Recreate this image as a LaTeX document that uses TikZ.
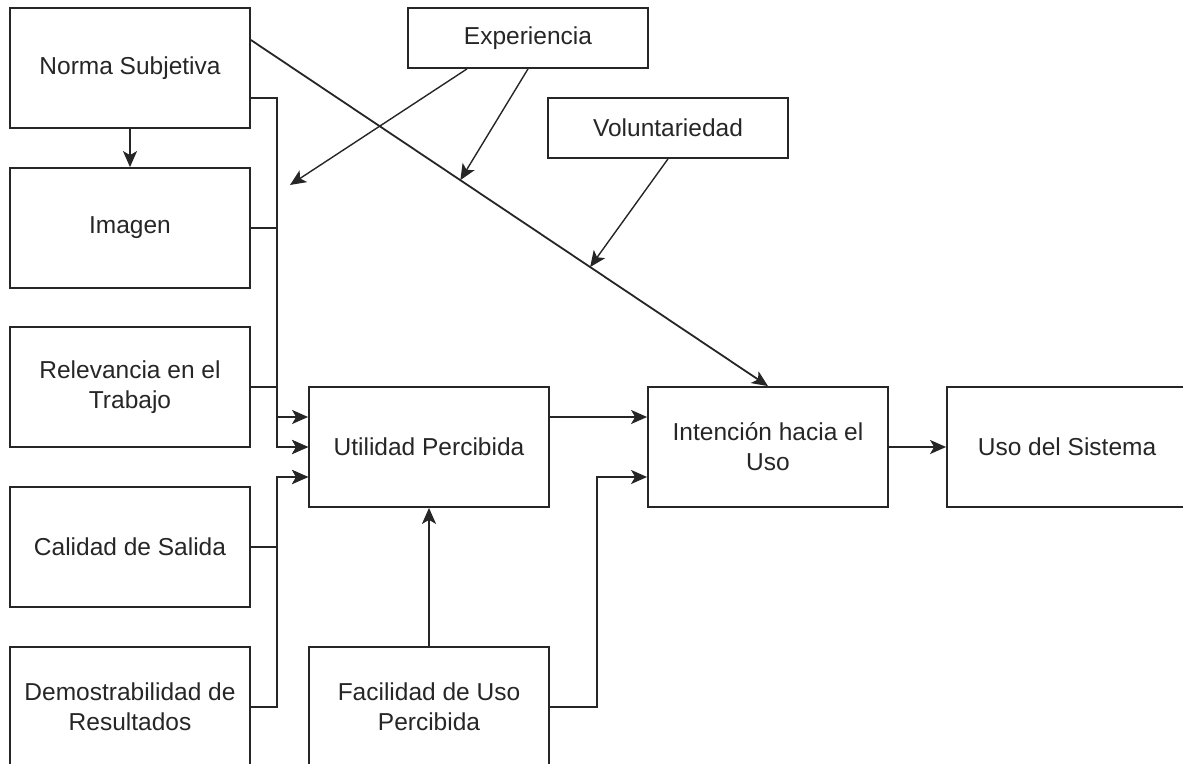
\documentclass[tikz,border=0pt]{standalone}
\usepackage{fontspec}
\setmainfont{Liberation Sans}
\usetikzlibrary{shapes,arrows.meta}

\begin{document}
\begin{tikzpicture}[x=1pt, y=-1pt, line width=1.8pt]
\tikzstyle{boxr}=[rectangle, draw=black!85, line width=1.8pt, minimum width=240pt, minimum height=120pt, inner sep=2pt, align=center, text=black!85, font=\fontsize{24.5}{30}\selectfont]
\tikzstyle{boxs}=[boxr, minimum height=60pt]
\tikzstyle{linkstyle}=[line width=1.8pt, draw=black!85, -{Stealth[length=16pt, width=14pt, inset=4pt]}]

\useasboundingbox (0,0) rectangle (1183,763);

\node[boxr] (B0x0) at (130,68) {Norma Subjetiva};
\node[boxr] (B0x1) at (130,228) {Imagen};
\node[boxr] (B0x2) at (130,387) {Relevancia en el\\Trabajo};
\node[boxr] (B0x3) at (130,547) {Calidad de Salida};
\node[boxr] (B0x4) at (130,707) {Demostrabilidad de\\Resultados};
\node[boxr] (B1x2) at (429,447) {Utilidad Percibida};
\node[boxr] (B1x4) at (429,707) {Facilidad de Uso\\Percibida};
\node[boxr] (B2x2) at (768,447) {Intenci\'on hacia el\\Uso};
\node[boxr] (B3x2) at (1067,447) {Uso del Sistema};
\node[boxs] (B1x0) at (528,38) {Experiencia};
\node[boxs] (B2x0) at (668,128) {Voluntariedad};

\draw[linkstyle] (B0x0) -- (B0x1);
\draw[linkstyle] ([yshift=-30pt]B0x0.east) -| ([xshift=-31pt,yshift=30pt]B1x2.west) -- ([yshift=30pt]B1x2.west);
\draw[linkstyle] (B0x1.east) -| ([xshift=-31pt]B1x2.west) -- (B1x2.west);
\draw[linkstyle] (B0x2.east) -| ([xshift=-31pt]B1x2.west) -- (B1x2.west);
\draw[linkstyle] (B0x3.east) -| ([xshift=-31pt,yshift=-30pt]B1x2.west) -- ([yshift=-30pt]B1x2.west);
\draw[linkstyle] (B0x4.east) -| ([xshift=-31pt,yshift=-30pt]B1x2.west) -- ([yshift=-30pt]B1x2.west);
\draw[linkstyle] (B1x4) -- (B1x2);
\draw[linkstyle] ([yshift=30pt]B1x2.east) -- ([yshift=30pt]B2x2.west);
\draw[linkstyle] (B1x4.east) -| ([xshift=-50pt,yshift=-30pt]B2x2.west) -- ([yshift=-30pt]B2x2.west);
\draw[linkstyle] (B2x2) -- (B3x2);
\draw[linkstyle] ([yshift=28pt]B0x0.east) -- coordinate[pos=0.405] (C1x1) coordinate[pos=0.656] (C2x1) (B2x2.north);

\coordinate (C0x1) at (290,185);
\draw[linkstyle, line width=1.4pt] ([xshift=-61pt]B1x0.south) -- (C0x1);
\draw[linkstyle, line width=1.4pt] (B1x0.south) -- (C1x1);
\draw[linkstyle, line width=1.4pt] (B2x0.south) -- (C2x1);
\end{tikzpicture}
\end{document}
